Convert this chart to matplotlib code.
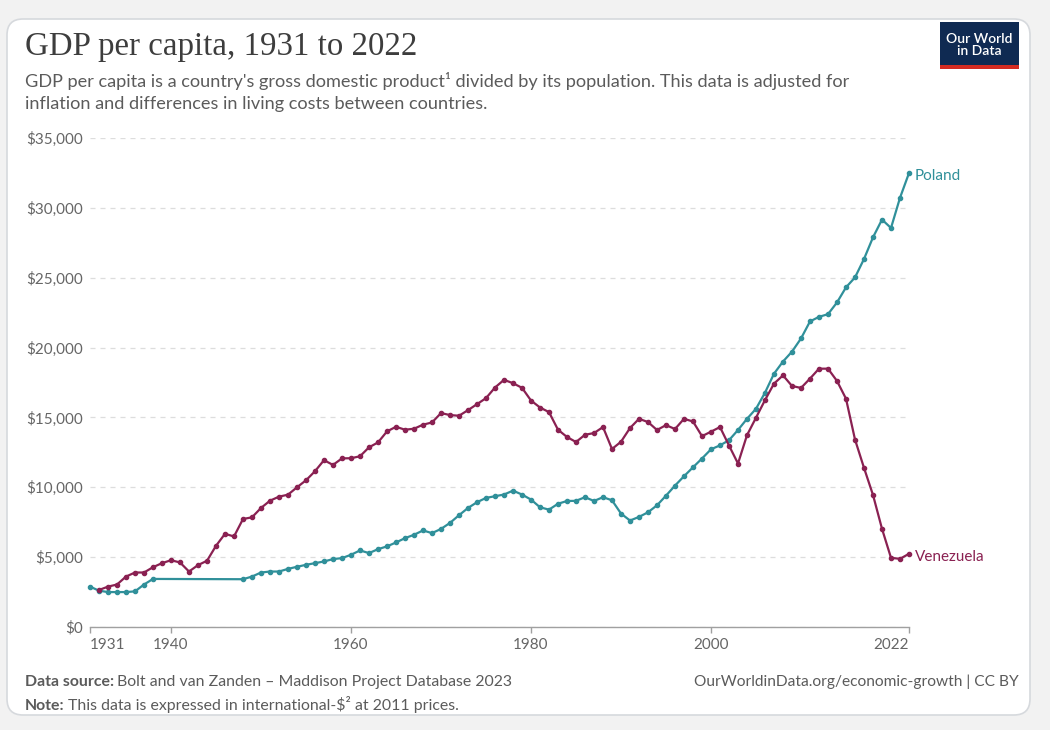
import matplotlib.pyplot as plt
from matplotlib.patches import FancyBboxPatch, Rectangle
from matplotlib.ticker import FuncFormatter

# GDP per capita, international-$ at 2011 prices (thousands)
poland_years = list(range(1931, 1939)) + list(range(1948, 2023))
poland_gdp = [
    2.89, 2.60, 2.50, 2.50, 2.50, 2.55, 3.04, 3.44,
    3.42, 3.61, 3.90, 3.97, 3.97, 4.16, 4.31, 4.45, 4.57, 4.69, 4.86, 4.93,
    5.17, 5.48, 5.29, 5.57, 5.77, 6.05, 6.36, 6.60, 6.91, 6.72,
    7.02, 7.45, 8.00, 8.52, 8.93, 9.24, 9.36, 9.48, 9.76, 9.48,
    9.12, 8.57, 8.40, 8.82, 9.02, 9.03, 9.29, 9.02, 9.29, 9.07,
    8.12, 7.62, 7.88, 8.21, 8.71, 9.40, 10.12, 10.79, 11.43, 12.06,
    12.72, 13.00, 13.37, 14.10, 14.90, 15.62, 16.77, 18.13, 19.00, 19.71,
    20.65, 21.87, 22.20, 22.39, 23.23, 24.31, 25.02, 26.34, 27.89, 29.16,
    28.56, 30.72, 32.49,
]
venezuela_years = list(range(1932, 2023))
venezuela_gdp = [
    2.65, 2.89, 3.04, 3.61, 3.90, 3.90, 4.28, 4.57,
    4.78, 4.62, 3.97, 4.43, 4.74, 5.81, 6.67, 6.48, 7.73, 7.85,
    8.52, 9.04, 9.33, 9.47, 10.00, 10.50, 11.15, 11.94, 11.60, 12.07,
    12.08, 12.22, 12.86, 13.21, 14.00, 14.33, 14.12, 14.19, 14.48, 14.64,
    15.31, 15.17, 15.12, 15.52, 15.95, 16.38, 17.14, 17.69, 17.45, 17.12,
    16.21, 15.71, 15.38, 14.12, 13.60, 13.24, 13.76, 13.88, 14.31, 12.74,
    13.26, 14.24, 14.90, 14.67, 14.10, 14.45, 14.17, 14.90, 14.71, 13.66,
    13.98, 14.31, 12.99, 11.70, 13.73, 14.98, 16.24, 17.42, 18.01, 17.25,
    17.11, 17.78, 18.49, 18.49, 17.61, 16.34, 13.42, 11.39, 9.45, 7.03,
    4.95, 4.88, 5.24,
]

x_ticks = [1931, 1940, 1960, 1980, 2000, 2022]
y_ticks = [0, 5000, 10000, 15000, 20000, 25000, 30000, 35000]

teal = "#30909a"
maroon = "#8a2152"
grey_text = "#5b5b5b"
tick_grey = "#666666"

plt.rcParams['font.family'] = ['Lato', 'DejaVu Sans']

fig = plt.figure(figsize=(10.5, 7.3), dpi=100)
fig.patch.set_facecolor("#f2f2f2")

# white card with rounded corners, kept behind the axes
card = FancyBboxPatch((0.07, 0.15), 10.23, 6.96,
                      boxstyle="round,pad=0,rounding_size=0.16",
                      transform=fig.dpi_scale_trans,
                      facecolor="white", edgecolor="#d6d9dd", linewidth=1.2, zorder=-10)
fig.patches.append(card)

ax = fig.add_axes([90 / 1050, 1 - 627 / 730, 819 / 1050, 489 / 730])
ax.set_facecolor("none")
ax.set_zorder(5)

ax.plot(poland_years, [v * 1000 for v in poland_gdp], color=teal, lw=1.6,
        marker="o", markersize=3, clip_on=False, zorder=3)
ax.plot(venezuela_years, [v * 1000 for v in venezuela_gdp], color=maroon, lw=1.6,
        marker="o", markersize=3, clip_on=False, zorder=3)

ax.annotate("Poland", (poland_years[-1], poland_gdp[-1] * 1000), xytext=(4, -2),
            textcoords="offset points", color=teal, fontsize=11, va="center")
ax.annotate("Venezuela", (venezuela_years[-1], venezuela_gdp[-1] * 1000), xytext=(4, -2),
            textcoords="offset points", color=maroon, fontsize=11, va="center")

ax.set_xlim(1931, 2022)
ax.set_ylim(0, 35000)
ax.set_xticks(x_ticks)
ax.set_yticks(y_ticks)
ax.yaxis.set_major_formatter(FuncFormatter(lambda v, p: f"${v:,.0f}"))

for s in ["top", "right", "left"]:
    ax.spines[s].set_visible(False)
ax.spines["bottom"].set_color("#a0a0a0")
ax.spines["bottom"].set_linewidth(1)

ax.tick_params(axis="y", length=0, pad=5, labelsize=11, labelcolor=tick_grey)
ax.tick_params(axis="x", length=4, width=1, color="#a0a0a0", pad=4,
               labelsize=11, labelcolor=tick_grey)
labels = ax.get_xticklabels()
labels[0].set_ha("left")
labels[-1].set_ha("right")

ax.grid(axis="y", color="#dddddd", linestyle=(0, (4, 4)), linewidth=0.9)
ax.set_axisbelow(True)

# header
fig.text(25 / 1050, 1 - 55 / 730, "GDP per capita, 1931 to 2022",
         family=["Liberation Serif", "DejaVu Serif"], fontsize=23.7, color="#3d3d3d",
         va="baseline")
fig.text(25 / 1050, 1 - 87 / 730,
         "GDP per capita is a country's gross domestic product¹ divided by its population. "
         "This data is adjusted for",
         fontsize=13.1, color=grey_text, va="baseline")
fig.text(25 / 1050, 1 - 109 / 730,
         "inflation and differences in living costs between countries.",
         fontsize=13.1, color=grey_text, va="baseline")

# logo
fig.patches.append(Rectangle((9.40, 6.65), 0.79, 0.43, transform=fig.dpi_scale_trans,
                             facecolor="#0f2a52", edgecolor="none"))
fig.patches.append(Rectangle((9.40, 6.61), 0.79, 0.04, transform=fig.dpi_scale_trans,
                             facecolor="#d42b21", edgecolor="none"))
fig.text(979 / 1050, 1 - 45 / 730, "Our World\nin Data", color="white", fontsize=10,
         weight="semibold", ha="center", va="center", linespacing=0.95)

# footer
renderer = fig.canvas.get_renderer()


def two_part(x, y, bold, rest):
    t = fig.text(x, y, bold, fontsize=11.4, color=grey_text, weight="bold", va="baseline")
    bb = t.get_window_extent(renderer)
    fig.text(bb.x1 / fig.bbox.width + 3 / 1050, y, rest, fontsize=11.4, color=grey_text,
             va="baseline")


two_part(25 / 1050, 1 - 686 / 730, "Data source:",
         "Bolt and van Zanden – Maddison Project Database 2023")
two_part(25 / 1050, 1 - 710 / 730, "Note:",
         "This data is expressed in international-$² at 2011 prices.")
fig.text(1019 / 1050, 1 - 686 / 730, "OurWorldinData.org/economic-growth | CC BY",
         fontsize=11.2, color=grey_text, ha="right", va="baseline")

fig.savefig("out.png", dpi=100, facecolor=fig.get_facecolor())
